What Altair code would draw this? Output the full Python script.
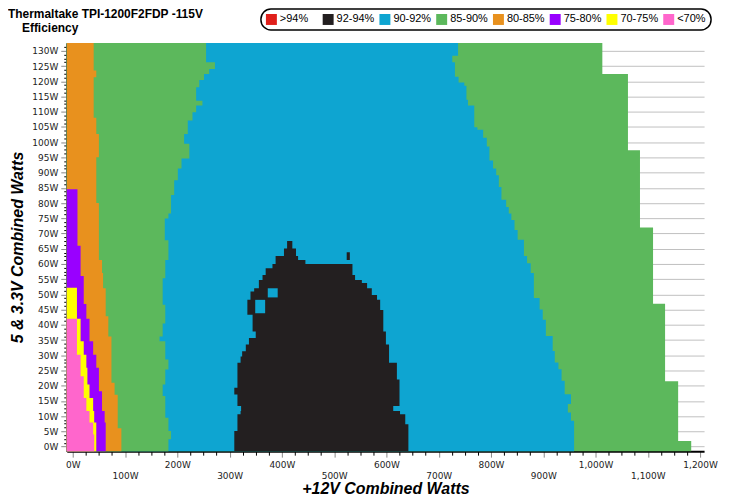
import altair as alt
import pandas as pd

TITLE = "Thermaltake TPI-1200F2FDP -115V"
SUBTITLE = "Efficiency"
X_TITLE = "+12V Combined Watts"
Y_TITLE = "5 & 3.3V Combined Watts"

ZONES = [">94%", "92-94%", "90-92%", "85-90%", "80-85%", "75-80%", "70-75%", "<70%"]
ZONE_COLORS = ["#E0201B", "#231F20", "#0EA5D1", "#5CB85C", "#E8911E", "#9900FF", "#FFFF00", "#FF66CC"]

X_DOMAIN = [-11.5, 1207.6]
Y_DOMAIN = [-1.5, 132.6]
X_TICKS = list(range(0, 1201, 25))
Y_TICKS = [i * 1.25 for i in range(0, 106)]

# right edge of the 85-90% zone (end of measured data), by 5&3.3V load
GREEN_END_V = [-1.5, 1.8, 21.5, 46.9, 72.0, 97.3, 122.4, 132.2, 132.6]
GREEN_END_W = [1206, 1183, 1158, 1133, 1110, 1085, 1062, 1013]

# right edge of the 90-92% zone
BLUE_END_V = [-1.5, 8.5, 11.2, 14.0, 17.2, 21.6, 25.4, 27.6, 31.4, 36.3, 41.7, 45.0, 48.8,
              57.0, 60.2, 62.6, 67.9, 71.1, 74.4, 76.6, 78.7, 81.1, 85.3, 89.1, 91.3, 94.0,
              98.6, 101.4, 104.1, 104.9, 112.0, 113.9, 118.5, 119.6, 121.5, 126.2, 128.4,
              132.2, 132.6]
BLUE_END_W = [966, 959, 953, 947, 953, 941, 935, 929, 922, 918, 905, 899, 893,
              882, 876, 869, 863, 851, 845, 839, 834, 829, 820, 815, 810, 804,
              797, 792, 785, 774, 768, 756, 753, 749, 738, 731, 726, 737]

# left 85-90% zone right edge (start of 90-92%)
GREEN_LEFT_V = [-1.5, 2.4, 5.1, 9.5, 16.6, 20.4, 25.3, 28.6, 34.6, 36.2, 40.4, 46.6, 55.3,
                61.3, 67.8, 74.9, 76.6, 82.6, 87.5, 91.3, 94.6, 99.5, 102.7, 107.1, 109.8,
                112.0, 113.6, 118.0, 120.4, 122.4, 124.0, 126.2, 131.1, 132.6]
GREEN_LEFT_W = [188, 183, 188, 183, 177, 172, 177, 183, 177, 166, 172, 177, 172,
                177, 183, 176, 183, 188, 194, 201, 208, 223, 213, 220, 229,
                236, 248, 236, 242, 251, 261, 272, 255]

ORANGE_END_V = [-1.5, 6.0, 17.0, 21.0, 36.2, 42.8, 52.0, 57.0, 61.3, 80.0, 95.0, 102.7,
                108.0, 121.3, 123.5, 130.5, 132.6]
ORANGE_END_W = [99, 93, 86, 80, 74, 68, 63, 58, 56, 50, 45, 50, 45, 40, 45, 40]

PURPLE_END_V = [-1.5, 7.9, 11.7, 18.2, 25.9, 30.2, 34.6, 42.0, 46.8, 56.0, 66.0, 74.7, 84.5]
PURPLE_END_W = [69, 63, 61, 56, 50, 45, 39, 32, 26, 21, 15, 9]

YELLOW_END_V = [-1.5, 7.9, 11.7, 16.0, 20.4, 25.9, 30.2, 34.6, 42.0, 46.8, 52.2]
YELLOW_END_W = [50, 45, 41, 39, 32, 28, 26, 21, 15, 8]

PINK_END_V = [-1.5, 4.0, 7.9, 11.7, 16.0, 23.1, 30.2, 34.6, 42.0]
PINK_END_W = [45, 41, 39, 32, 26, 21, 15, 8]

# 92-94% island
BLACK_V = [-1.5, 5.1, 7.3, 10.6, 11.7, 13.3, 17.1, 19.3, 22.0, 27.5, 29.6, 31.3, 33.5, 35.7,
           37.8, 43.3, 44.9, 48.2, 49.8, 50.9, 52.0, 53.7, 54.7, 56.4, 58.6, 60.0, 61.3,
           62.6, 65.1, 66.2, 67.5]
BLACK_LEFT = [309, 309, 315, 315, 321, 322, 315, 309, 315, 315, 321, 324, 331, 337,
              350, 344, 334, 334, 340, 340, 347, 356, 356, 363, 369, 382, 388, 388, 404, 410]
BLACK_RIGHT = [636, 642, 642, 636, 626, 613, 625, 625, 625, 620, 605, 605, 605, 599,
               599, 594, 594, 588, 582, 572, 572, 563, 553, 540, 535, 535, 445, 431, 427, 420]
EAR_V = [61.3, 62.6, 63.8]
EAR_LEFT = [464, 524]
EAR_RIGHT = [530, 530]

# 90-92% holes inside the island
HOLE_V0 = [43.8, 49.0]
HOLE_V1 = [48.2, 52.0]
HOLE_W0 = [349, 373]
HOLE_W1 = [368, 392]


def step_frame(v_edges, w_left, w_right, zone):
    assert len(v_edges) == len(w_right) + 1 and len(w_left) == len(w_right)
    wl = list(w_left) + [w_left[-1]]
    wr = list(w_right) + [w_right[-1]]
    return pd.DataFrame({"v": v_edges, "w0": wl, "w": wr, "zone": zone})


def from_left(v_edges, w, zone):
    return step_frame(v_edges, [X_DOMAIN[0]] * len(w), w, zone)


color_enc = alt.Color(
    "zone:N",
    scale=alt.Scale(domain=ZONES, range=ZONE_COLORS),
    legend=alt.Legend(
        title=None, orient="none", legendX=195, legendY=-34, direction="horizontal",
        columns=8, gridAlign="all", symbolType="square", symbolSize=121,
        symbolStrokeWidth=0, symbolOpacity=1, labelFont="Liberation Sans",
        labelFontSize=11, labelColor="black", labelOffset=3, columnPadding=5,
    ),
)

MAJ_X = "datum.value % 100 === 0"
MAJ_Y = "datum.value % 5 === 0"

x_enc = alt.X(
    "w:Q", stack=None,
    scale=alt.Scale(domain=X_DOMAIN, nice=False, zero=False),
    axis=alt.Axis(
        values=X_TICKS, grid=False,
        labelExpr=("datum.value % 100 !== 0 ? '' : (datum.value % 200 === 0 ? "
                   "format(datum.value, ',') + 'W' : ['', format(datum.value, ',') + 'W'])"),
        labelFont="DejaVu Sans", labelFontSize=9, labelColor="#222222", labelPadding=3,
        labelLineHeight=11, labelOverlap=False, labelFlush=False,
        domainColor="black", domainWidth=2,
        tickColor={"condition": {"test": MAJ_X, "value": "#888888"}, "value": "black"},
        tickSize={"condition": {"test": MAJ_X, "value": 6}, "value": 4},
        tickWidth=1,
        title=X_TITLE, titleFont="Liberation Sans", titleFontSize=16,
        titleFontWeight="bold", titleFontStyle="italic", titleColor="black",
        titleY=43, titleBaseline="alphabetic",
    ),
)

y_enc = alt.Y(
    "v:Q",
    scale=alt.Scale(domain=Y_DOMAIN, nice=False, zero=False),
    axis=alt.Axis(
        values=Y_TICKS, grid=True, gridColor="#c0c0c0", gridWidth=1,
        gridOpacity={"condition": {"test": MAJ_Y, "value": 1}, "value": 0},
        labelExpr="datum.value % 5 === 0 ? datum.value + 'W' : ''",
        labelFont="DejaVu Sans", labelFontSize=9, labelColor="#222222", labelPadding=3,
        labelOverlap=False,
        domainColor="black", domainWidth=2,
        tickColor={"condition": {"test": MAJ_Y, "value": "#888888"}, "value": "black"},
        tickSize={"condition": {"test": MAJ_Y, "value": 6}, "value": 3},
        tickWidth=1,
        title=Y_TITLE, titleFont="Liberation Sans", titleFontSize=16,
        titleFontWeight="bold", titleFontStyle="italic", titleColor="black",
        titleX=-49, titleY=205, titleAngle=270, titleAlign="center", titleBaseline="middle",
    ),
)


def area(df):
    return alt.Chart(df).mark_area(
        orient="horizontal", interpolate="step-before", opacity=1
    ).encode(y=y_enc, x=x_enc, x2="w0:Q", color=color_enc)


layers = [
    area(from_left(GREEN_END_V, GREEN_END_W, "85-90%")),
    area(from_left(BLUE_END_V, BLUE_END_W, "90-92%")),
    area(step_frame(BLACK_V, BLACK_LEFT, BLACK_RIGHT, "92-94%")),
    area(step_frame(EAR_V, EAR_LEFT, EAR_RIGHT, "92-94%")),
    alt.Chart(pd.DataFrame({"v": HOLE_V0, "v2": HOLE_V1, "w0": HOLE_W0, "w": HOLE_W1,
                            "zone": "90-92%"})).mark_rect(opacity=1).encode(
        y=y_enc, y2="v2:Q", x=x_enc, x2="w0:Q", color=color_enc),
    area(from_left(GREEN_LEFT_V, GREEN_LEFT_W, "85-90%")),
    area(from_left(ORANGE_END_V, ORANGE_END_W, "80-85%")),
    area(from_left(PURPLE_END_V, PURPLE_END_W, "75-80%")),
    area(from_left(YELLOW_END_V, YELLOW_END_W, "70-75%")),
    area(from_left(PINK_END_V, PINK_END_W, "<70%")),
    alt.Chart(pd.DataFrame({"t": [TITLE]})).mark_text(
        align="left", baseline="alphabetic", font="Liberation Sans", fontSize=12,
        fontWeight="bold", color="black").encode(
        x=alt.value(-59), y=alt.value(-25), text="t:N"),
    alt.Chart(pd.DataFrame({"t": [SUBTITLE]})).mark_text(
        align="left", baseline="alphabetic", font="Liberation Sans", fontSize=12,
        fontWeight="bold", color="black").encode(
        x=alt.value(-45), y=alt.value(-11), text="t:N"),
]

chart = alt.layer(*layers).properties(
    width=640, height=410,
    autosize=alt.AutoSizeParams(type="none"),
    padding={"left": 59, "top": 34, "right": 17, "bottom": 44},
    background="white",
).configure_view(stroke=None).configure_legend(
    strokeColor="black", strokeWidth=1.5, fillColor="white", cornerRadius=10, padding=5,
)

chart.save("out.html", embed_options={"renderer": "svg", "actions": False})
